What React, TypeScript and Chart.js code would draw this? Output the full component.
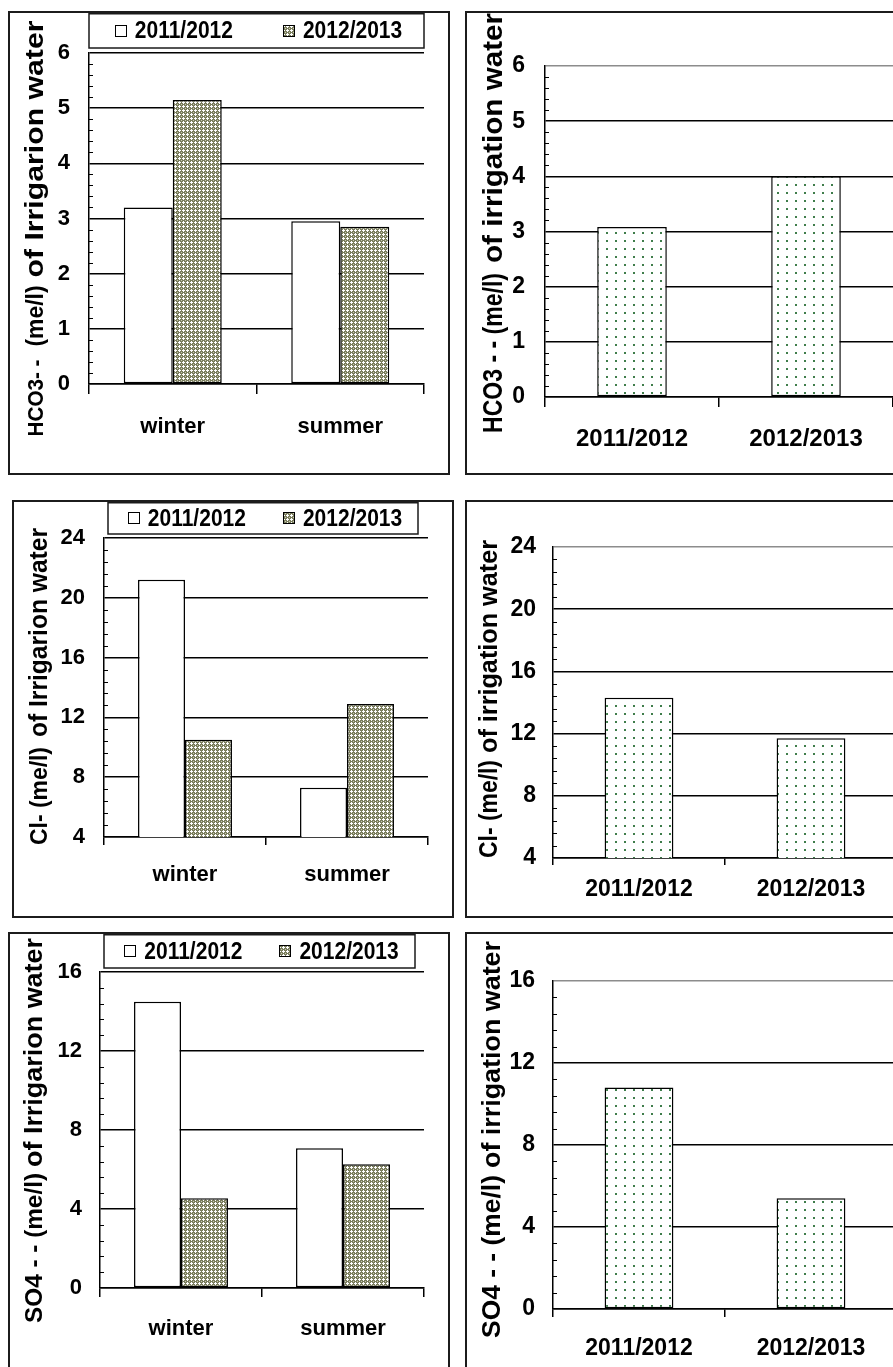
import React, { useEffect, useRef } from 'react';
import { Chart, registerables } from 'chart.js';

Chart.register(...registerables);

const FONT_FAMILY = '"Liberation Sans", Arial, Helvetica, sans-serif';

// Categories
const seasons = ['winter', 'summer'];
const years = ['2011/2012', '2012/2013'];

// HCO3-- of irrigation water (me/l)
const hco3Season2011 = [3.2, 2.95];
const hco3Season2012 = [5.15, 2.85];
const hco3ByYear = [3.08, 4.0];

// Cl- of irrigation water (me/l)
const clSeason2011 = [21.2, 7.3];
const clSeason2012 = [10.5, 12.9];
const clByYear = [14.3, 11.7];

// SO4-- of irrigation water (me/l)
const so4Season2011 = [14.5, 7.07];
const so4Season2012 = [4.55, 6.27];
const so4ByYear = [10.8, 5.4];

// Value axes: [min, max, step]
const hco3Axis = [0, 6, 1];
const clAxis = [4, 24, 4];
const so4Axis = [0, 16, 4];

type Fill = 'white' | 'checker' | 'dots';
type Seg = { text: string; size: number; from: number; to: number };

const patternCache: Record<string, any> = {};

function makeFill(kind: Fill): any {
  if (kind === 'white') return '#ffffff';
  if (patternCache[kind]) return patternCache[kind];
  const c = document.createElement('canvas');
  const g = c.getContext('2d')!;
  if (kind === 'checker') {
    // olive ground with small white crosses
    c.width = 4;
    c.height = 4;
    g.fillStyle = '#7a7d5c';
    g.fillRect(0, 0, 4, 4);
    g.fillStyle = '#ffffff';
    g.fillRect(0, 1, 3, 1);
    g.fillRect(1, 0, 1, 3);
    g.fillStyle = '#c8cab6';
    g.fillRect(3, 3, 1, 1);
  } else {
    c.width = 9;
    c.height = 8;
    g.fillStyle = '#ffffff';
    g.fillRect(0, 0, 9, 8);
    g.fillStyle = '#3f7d4b';
    g.fillRect(4, 3, 2, 2);
  }
  const p = g.createPattern(c, 'repeat');
  patternCache[kind] = p;
  return p;
}

// Rotated value-axis caption, drawn in runs of differing size
function captionPlugin(cap: { x: number; y: number; segs: Seg[] }) {
  return {
    id: 'axisCaption',
    afterDraw(chart: any) {
      const ctx = chart.ctx;
      ctx.save();
      ctx.fillStyle = '#000';
      ctx.textBaseline = 'alphabetic';
      ctx.textAlign = 'left';
      for (const seg of cap.segs) {
        ctx.font = `bold ${seg.size}px ${FONT_FAMILY}`;
        const natural = ctx.measureText(seg.text).width;
        const k = (seg.to - seg.from) / natural;
        ctx.save();
        ctx.translate(cap.x, cap.y - seg.from);
        ctx.rotate(-Math.PI / 2);
        ctx.scale(k, 1);
        ctx.fillText(seg.text, 0, 0);
        ctx.restore();
      }
      ctx.restore();
    },
  };
}

// Framed legend above the plot
function legendPlugin(box: { x1: number; y1: number; x2: number; y2: number; gap: number; size: number }) {
  return {
    id: 'boxedLegend',
    afterDraw(chart: any) {
      const ctx = chart.ctx;
      ctx.save();
      ctx.font = `bold ${box.size}px ${FONT_FAMILY}`;
      const sw = 12;
      const sg = 8;
      const items = chart.data.datasets.map((ds: any) => ({
        label: ds.label,
        fill: ds.backgroundColor,
        w: ctx.measureText(ds.label).width,
      }));
      const total =
        items.reduce((a: number, it: any) => a + sw + sg + it.w, 0) + box.gap * (items.length - 1);
      let x = (box.x1 + box.x2) / 2 - total / 2 + 2;
      const cy = (box.y1 + box.y2) / 2;
      ctx.lineWidth = 1.5;
      ctx.strokeStyle = '#1a1a1a';
      ctx.strokeRect(box.x1, box.y1, box.x2 - box.x1, box.y2 - box.y1);
      for (const it of items) {
        const sx = Math.round(x);
        const sy = Math.round(cy - sw / 2);
        ctx.fillStyle = it.fill;
        ctx.fillRect(sx, sy, sw, sw);
        ctx.lineWidth = 1;
        ctx.strokeStyle = '#000';
        ctx.strokeRect(sx + 0.5, sy + 0.5, sw - 1, sw - 1);
        ctx.fillStyle = '#000';
        ctx.textBaseline = 'middle';
        ctx.textAlign = 'left';
        ctx.save();
        ctx.translate(x + sw + sg, cy + 1);
        ctx.scale(1, 1.14);
        ctx.fillText(it.label, 0, 0);
        ctx.restore();
        x += sw + sg + it.w + box.gap;
      }
      ctx.restore();
    },
  };
}

// Short inner ticks between the major value-axis ticks
function minorTickPlugin(min: number, max: number, step: number) {
  return {
    id: 'minorTicks',
    afterDraw(chart: any) {
      const ctx = chart.ctx;
      const yScale = chart.scales.y;
      const left = chart.chartArea.left;
      const minor = step / 5;
      const n = Math.round((max - min) / minor);
      ctx.save();
      ctx.strokeStyle = '#000';
      ctx.lineWidth = 1;
      ctx.beginPath();
      for (let i = 1; i < n; i++) {
        if (i % 5 === 0) continue;
        const py = Math.round(yScale.getPixelForValue(min + i * minor)) + 0.5;
        ctx.moveTo(left, py);
        ctx.lineTo(left + 4, py);
      }
      ctx.stroke();
      ctx.restore();
    },
  };
}

type Spec = {
  frame: { x: number; y: number; w: number; h: number };
  labels: string[];
  series: { label: string; data: number[]; fill: Fill }[];
  axis: number[];
  axisW: number;
  padTop: number;
  padRight: number;
  xAxisH: number;
  yTickSize: number;
  yTickPad: number;
  xTickSize: number;
  xTickPad: number;
  xTickLen: number;
  topGrid: string;
  barFrac: number;
  legend?: { x1: number; y1: number; x2: number; y2: number; gap: number; size: number };
  caption: { x: number; y: number; segs: Seg[] };
};

const panels: Spec[] = [
  {
    frame: { x: 8, y: 11, w: 442, h: 464 },
    labels: seasons,
    series: [
      { label: years[0], data: hco3Season2011, fill: 'white' },
      { label: years[1], data: hco3Season2012, fill: 'checker' },
    ],
    axis: hco3Axis,
    axisW: 79,
    padTop: 40,
    padRight: 24,
    xAxisH: 89,
    yTickSize: 22,
    yTickPad: 19,
    xTickSize: 22,
    xTickPad: 20,
    xTickLen: 10,
    topGrid: '#000',
    barFrac: 0.585,
    legend: { x1: 79, y1: 0.75, x2: 414, y2: 35, gap: 50, size: 21 },
    caption: {
      x: 33,
      y: 423.5,
      segs: [
        { text: 'HCO3- -', size: 22, from: 0, to: 77 },
        { text: '(me/l)', size: 24, from: 90, to: 151 },
        { text: 'of Irrigarion water', size: 26, from: 159, to: 416 },
      ],
    },
  },
  {
    frame: { x: 465, y: 11, w: 435, h: 464 },
    labels: years,
    series: [{ label: 'HCO3 - -', data: hco3ByYear, fill: 'dots' }],
    axis: hco3Axis,
    axisW: 78,
    padTop: 53,
    padRight: 5,
    xAxisH: 76,
    yTickSize: 23,
    yTickPad: 20,
    xTickSize: 24,
    xTickPad: 18,
    xTickLen: 10,
    topGrid: '#8c8c8c',
    barFrac: 0.4,
    caption: {
      x: 34.7,
      y: 420,
      segs: [
        { text: 'HCO3 - - (me/l)', size: 27, from: 0, to: 160 },
        { text: 'of irrigation water', size: 27, from: 170, to: 420 },
      ],
    },
  },
  {
    frame: { x: 12, y: 500, w: 442, h: 418 },
    labels: seasons,
    series: [
      { label: years[0], data: clSeason2011, fill: 'white' },
      { label: years[1], data: clSeason2012, fill: 'checker' },
    ],
    axis: clAxis,
    axisW: 90,
    padTop: 36,
    padRight: 24,
    xAxisH: 79,
    yTickSize: 22,
    yTickPad: 19,
    xTickSize: 22,
    xTickPad: 17,
    xTickLen: 8,
    topGrid: '#000',
    barFrac: 0.58,
    legend: { x1: 94, y1: 0.75, x2: 404, y2: 32, gap: 37, size: 21 },
    caption: {
      x: 32.7,
      y: 343,
      segs: [
        { text: 'Cl- (me/l)', size: 24, from: 0, to: 98 },
        { text: 'of Irrigarion water', size: 25, from: 108, to: 317 },
      ],
    },
  },
  {
    frame: { x: 465, y: 500, w: 435, h: 418 },
    labels: years,
    series: [{ label: 'Cl-', data: clByYear, fill: 'dots' }],
    axis: clAxis,
    axisW: 86,
    padTop: 45,
    padRight: 1,
    xAxisH: 58,
    yTickSize: 23,
    yTickPad: 17,
    xTickSize: 23,
    xTickPad: 11,
    xTickLen: 7,
    topGrid: '#8c8c8c',
    barFrac: 0.4,
    caption: {
      x: 29.7,
      y: 356,
      segs: [
        { text: 'Cl- (me/l)', size: 25, from: 0, to: 98 },
        { text: 'of irrigation water', size: 25, from: 105, to: 318 },
      ],
    },
  },
  {
    frame: { x: 8, y: 932, w: 442, h: 448 },
    labels: seasons,
    series: [
      { label: years[0], data: so4Season2011, fill: 'white' },
      { label: years[1], data: so4Season2012, fill: 'checker' },
    ],
    axis: so4Axis,
    axisW: 90,
    padTop: 38,
    padRight: 24,
    xAxisH: 90,
    yTickSize: 22,
    yTickPad: 18,
    xTickSize: 22,
    xTickPad: 19,
    xTickLen: 9,
    topGrid: '#000',
    barFrac: 0.58,
    legend: { x1: 94, y1: 0.75, x2: 405, y2: 34, gap: 37, size: 21 },
    caption: {
      x: 31.7,
      y: 389,
      segs: [
        { text: 'SO4 - - (me/l)', size: 23, from: 0, to: 150 },
        { text: 'of Irrigarion water', size: 26, from: 156, to: 385 },
      ],
    },
  },
  {
    frame: { x: 465, y: 932, w: 435, h: 448 },
    labels: years,
    series: [{ label: 'SO4 - -', data: so4ByYear, fill: 'dots' }],
    axis: so4Axis,
    axisW: 86,
    padTop: 47,
    padRight: 1,
    xAxisH: 69,
    yTickSize: 23,
    yTickPad: 18,
    xTickSize: 23,
    xTickPad: 18,
    xTickLen: 8,
    topGrid: '#8c8c8c',
    barFrac: 0.4,
    caption: {
      x: 33,
      y: 404,
      segs: [
        { text: 'SO4 - - (me/l)', size: 25, from: 0, to: 163 },
        { text: 'of irrigation water', size: 25, from: 170, to: 397 },
      ],
    },
  },
];

function Panel({ spec }: { spec: Spec }) {
  const ref = useRef<HTMLCanvasElement>(null);
  const cw = spec.frame.w - 4;
  const ch = spec.frame.h - 4;

  useEffect(() => {
    const canvas = ref.current;
    if (!canvas) return;
    const [yMin, yMax, yStep] = spec.axis;
    const plugins: any[] = [minorTickPlugin(yMin, yMax, yStep), captionPlugin(spec.caption)];
    if (spec.legend) plugins.push(legendPlugin(spec.legend));

    const chart = new Chart(canvas, {
      type: 'bar',
      data: {
        labels: spec.labels,
        datasets: spec.series.map((s) => ({
          label: s.label,
          data: s.data,
          backgroundColor: makeFill(s.fill),
          borderColor: '#000',
          borderWidth: 1.5,
          borderSkipped: false,
          categoryPercentage: spec.barFrac,
          barPercentage: 1,
        })),
      },
      options: {
        responsive: false,
        maintainAspectRatio: false,
        animation: false,
        events: [],
        devicePixelRatio: 1,
        layout: { padding: { top: spec.padTop, right: spec.padRight, left: 0, bottom: 0 } },
        plugins: {
          legend: { display: false },
          tooltip: { enabled: false },
          title: { display: false },
        },
        scales: {
          x: {
            offset: true,
            grid: {
              display: true,
              offset: true,
              drawOnChartArea: false,
              drawTicks: true,
              tickLength: spec.xTickLen,
              color: '#000',
              lineWidth: 1.5,
            },
            border: { display: true, color: '#000', width: 1.5 },
            ticks: {
              color: '#000',
              font: { family: FONT_FAMILY, size: spec.xTickSize, weight: 'bold' },
              padding: spec.xTickPad,
              maxRotation: 0,
              autoSkip: false,
            },
            afterFit: (s: any) => {
              s.height = spec.xAxisH;
            },
          },
          y: {
            min: yMin,
            max: yMax,
            grid: {
              drawTicks: false,
              color: (c: any) => (c.tick && c.tick.value === yMax ? spec.topGrid : '#000'),
              lineWidth: 1.5,
            },
            border: { display: true, color: '#000', width: 1.5 },
            ticks: {
              stepSize: yStep,
              color: '#000',
              font: { family: FONT_FAMILY, size: spec.yTickSize, weight: 'bold' },
              padding: spec.yTickPad,
            },
            afterFit: (s: any) => {
              s.width = spec.axisW;
            },
          },
        },
      } as any,
      plugins,
    });
    return () => chart.destroy();
  }, [spec]);

  return (
    <div
      style={{
        position: 'absolute',
        left: spec.frame.x,
        top: spec.frame.y,
        width: spec.frame.w,
        height: spec.frame.h,
        border: '2px solid #1c1c1c',
        boxSizing: 'border-box',
        background: '#fff',
      }}
    >
      <canvas ref={ref} width={cw} height={ch} style={{ display: 'block', width: cw, height: ch }} />
    </div>
  );
}

export default function App() {
  return (
    <div
      style={{
        position: 'fixed',
        left: 0,
        top: 0,
        width: 893,
        height: 1367,
        overflow: 'hidden',
        background: '#fff',
      }}
    >
      {panels.map((p, i) => (
        <Panel key={i} spec={p} />
      ))}
    </div>
  );
}
